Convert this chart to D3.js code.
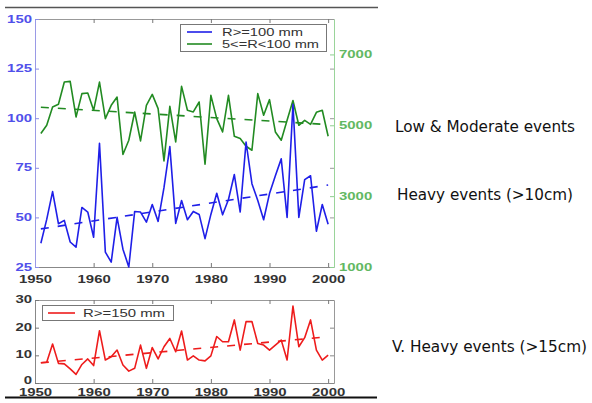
<!DOCTYPE html>
<html>
<head>
<meta charset="utf-8">
<script src="https://cdn.jsdelivr.net/npm/d3@7"></script>
<style>
  html, body { margin: 0; padding: 0; background: #fff; }
  svg { display: block; }
</style>
</head>
<body>
<svg id="chart" width="592" height="403"></svg>
<script>
// Annual rainfall-event counts, 1951-2000
const years = d3.range(1951, 2001);

// Heavy events, R >= 100 mm (left axis)
const heavy = [37, 49, 63, 46.8, 48.5, 37.6, 35, 55, 52.7, 40,
               87.4, 32.5, 27.5, 50, 34, 25, 53, 52.7, 47.6, 56.5,
               48, 65, 85.7, 47, 58.5, 48.8, 53, 51.5, 39.3, 51.5,
               62.2, 51.3, 59, 71.6, 52.7, 88, 67, 58.5, 48.8, 62,
               71, 79.5, 50, 107, 50, 69, 71, 43, 56.5, 46.5];

// Low & moderate events, 5 <= R < 100 mm (right axis)
const moderate = [4766, 5000, 5516, 5592, 6220, 6240, 5234, 5893, 5911, 5423,
                  6220, 5189, 5564, 5797, 4175, 4578, 5375, 4558, 5564, 5873,
                  5470, 3995, 5535, 4530, 6099, 5423, 5376, 5658, 3902, 5845,
                  5188, 4812, 5845, 4690, 4625, 4409, 4296, 5893, 5282, 5724,
                  4812, 4578, 5141, 5700, 5000, 5141, 5028, 5366, 5423, 4690];

// Very heavy events, R >= 150 mm
const veryHeavy = [7.3, 7.5, 14.1, 7.1, 6.9, 5.1, 3.1, 6.7, 8.7, 6.3,
                   18.9, 8.3, 9.5, 11.9, 6.5, 4.3, 5.3, 13.7, 5.3, 12.8,
                   8.7, 13.1, 16.1, 11.3, 18.8, 8.3, 9.8, 8.3, 8.0, 9.8,
                   16.8, 14.9, 14.9, 22.8, 11.9, 22.2, 22.2, 14.3, 13.7, 11.9,
                   13.7, 15.5, 8.3, 27.8, 13.1, 16.4, 22.8, 11.9, 8.3, 10.1];

// Linear trends (value at first and last year)
const trendYears = [1951, 2000];
const heavyTrend = [44.2, 66.3];
const moderateTrend = [5510, 5020];
const veryHeavyTrend = [7.3, 16.7];

// Tick values
const xTicks = [1950, 1960, 1970, 1980, 1990, 2000];
const heavyTicks = [25, 50, 75, 100, 125, 150];
const moderateTicks = [1000, 3000, 5000, 7000];
const veryHeavyTicks = [0, 10, 20, 30];

// Legend entries and side captions
const topLegend = ["R>=100 mm", "5<=R<100 mm"];
const bottomLegend = ["R>=150 mm"];
const captions = ["Low & Moderate events", "Heavy events (>10cm)", "V. Heavy events (>15cm)"];

const svg = d3.select("#chart");
const FONT = "'Liberation Sans', Arial, sans-serif";
const fmt = d3.format("d");

const x = d3.scaleLinear().domain([1950, 2001]).range([35, 334]);
const yL = d3.scaleLinear().domain([25, 150]).range([267, 19]);
const yR = d3.scaleLinear().domain([1000, 8000]).range([267, 19]);
const y2 = d3.scaleLinear().domain([0, 30]).range([383, 300]);

// frame rules above and below the panels
svg.append("line").attr("x1", 5).attr("x2", 378).attr("y1", 7.5).attr("y2", 7.5)
  .attr("stroke", "#555").attr("stroke-width", 1.5);
svg.append("line").attr("x1", 5).attr("x2", 377).attr("y1", 397.5).attr("y2", 397.5)
  .attr("stroke", "#111").attr("stroke-width", 2.2);

function styleAxis(g, color, lineColor, labelColor, digitW) {
  g.select(".domain").attr("stroke", lineColor).attr("stroke-width", 1);
  g.selectAll(".tick line").attr("stroke", color).attr("stroke-width", 1);
  g.selectAll(".tick text")
    .attr("fill", labelColor)
    .attr("font-family", FONT)
    .attr("font-size", 11)
    .attr("font-weight", "bold")
    .each(function () {
      const t = d3.select(this);
      const s = t.text();
      if (s.length) t.attr("textLength", s.length * digitW).attr("lengthAdjust", "spacingAndGlyphs");
    });
}

// ---------- upper panel ----------
const upper = svg.append("g");

// bottom x axis
const gxB = upper.append("g").attr("transform", "translate(0,267)")
  .call(d3.axisBottom(x).tickValues(xTicks).tickSizeInner(-4).tickSizeOuter(0).tickFormat(fmt));
styleAxis(gxB, "#777", "#888", "#333", 8.3);
gxB.selectAll(".tick text").attr("dy", null).attr("y", 15.5);

// top edge
const gxT = upper.append("g").attr("transform", "translate(0,19)")
  .call(d3.axisTop(x).tickValues(xTicks).tickSizeInner(-4).tickSizeOuter(0).tickFormat(""));
styleAxis(gxT, "#777", "#999", "#333", 8.3);

// mirrored heavy ticks on right edge
const gyM = upper.append("g").attr("transform", "translate(334,0)")
  .call(d3.axisRight(yL).tickValues(heavyTicks).tickSizeInner(-4).tickSizeOuter(0).tickFormat(""));
styleAxis(gyM, "#999", "none", "#333", 8.3);

// left axis (heavy events)
const gyL = upper.append("g").attr("transform", "translate(35,0)")
  .call(d3.axisLeft(yL).tickValues(heavyTicks).tickSizeInner(-4).tickSizeOuter(0).tickPadding(3).tickFormat(fmt));
styleAxis(gyL, "#8c8ce6", "#9a9ae6", "#5050ea", 8.3);
gyL.selectAll(".tick text").attr("dy", "0.28em");

// right axis (moderate events)
const gyR = upper.append("g").attr("transform", "translate(334,0)")
  .call(d3.axisRight(yR).tickValues(moderateTicks).tickSizeInner(-4).tickSizeOuter(0).tickPadding(5).tickFormat(fmt));
styleAxis(gyR, "#8fcf8f", "#9ad49a", "#62b862", 8.3);
gyR.selectAll(".tick text").attr("dy", "0.28em");

const lineL = d3.line().x((d, i) => x(years[i])).y(d => yL(d));
const lineR = d3.line().x((d, i) => x(years[i])).y(d => yR(d));

upper.append("path").datum(moderate).attr("d", lineR)
  .attr("fill", "none").attr("stroke", "#228b22").attr("stroke-width", 1.6).attr("stroke-linejoin", "round");
upper.append("path").datum(heavy).attr("d", lineL)
  .attr("fill", "none").attr("stroke", "#1f1fe8").attr("stroke-width", 1.6).attr("stroke-linejoin", "round");

const trendLine = (ys) => d3.line().x((d, i) => x(trendYears[i])).y(d => ys(d));
upper.append("path").datum(moderateTrend).attr("d", trendLine(yR))
  .attr("fill", "none").attr("stroke", "#228b22").attr("stroke-width", 1.6).attr("stroke-dasharray", "8,9");
upper.append("path").datum(heavyTrend).attr("d", trendLine(yL))
  .attr("fill", "none").attr("stroke", "#1f1fe8").attr("stroke-width", 1.6).attr("stroke-dasharray", "8,9");

// legend
const lg = upper.append("g");
lg.append("rect").attr("x", 180.5).attr("y", 24.5).attr("width", 146).attr("height", 27)
  .attr("fill", "#fff").attr("stroke", "#777").attr("stroke-width", 1);
const topColors = ["#1f1fe8", "#228b22"];
const topTextW = [81, 97];
topLegend.forEach((s, i) => {
  const yy = 32 + i * 12;
  lg.append("line").attr("x1", 187).attr("x2", 212).attr("y1", yy).attr("y2", yy)
    .attr("stroke", topColors[i]).attr("stroke-width", 1.6);
  lg.append("text").attr("x", 222).attr("y", yy + 3.8).text(s)
    .attr("font-family", FONT).attr("font-size", 10).attr("fill", "#333")
    .attr("textLength", topTextW[i]).attr("lengthAdjust", "spacingAndGlyphs");
});

// ---------- lower panel ----------
const lower = svg.append("g");

const bxB = lower.append("g").attr("transform", "translate(0,383)")
  .call(d3.axisBottom(x).tickValues(xTicks).tickSizeInner(-4).tickSizeOuter(0).tickFormat(fmt));
styleAxis(bxB, "#777", "#888", "#333", 8.3);
bxB.selectAll(".tick text").attr("dy", null).attr("y", 12.8);

const bxT = lower.append("g").attr("transform", "translate(0,300)")
  .call(d3.axisTop(x).tickValues(xTicks).tickSizeInner(-4).tickSizeOuter(0).tickFormat(""));
styleAxis(bxT, "#777", "#999", "#333", 8.3);

const byR = lower.append("g").attr("transform", "translate(334,0)")
  .call(d3.axisRight(y2).tickValues(veryHeavyTicks).tickSizeInner(-4).tickSizeOuter(0).tickFormat(""));
styleAxis(byR, "#888", "#999", "#333", 8.3);

const byL = lower.append("g").attr("transform", "translate(35,0)")
  .call(d3.axisLeft(y2).tickValues(veryHeavyTicks).tickSizeInner(-4).tickSizeOuter(0).tickPadding(3).tickFormat(fmt));
styleAxis(byL, "#777", "#888", "#333", 8.3);
// the zero label sits just above the year labels
byL.selectAll(".tick text").attr("dy", d => d === 0 ? "0.03em" : "0.22em");

lower.append("path").datum(veryHeavy)
  .attr("d", d3.line().x((d, i) => x(years[i])).y(d => y2(d)))
  .attr("fill", "none").attr("stroke", "#ee1c1c").attr("stroke-width", 1.6).attr("stroke-linejoin", "round");
lower.append("path").datum(veryHeavyTrend).attr("d", trendLine(y2))
  .attr("fill", "none").attr("stroke", "#ee1c1c").attr("stroke-width", 1.6).attr("stroke-dasharray", "8,9");

const lg2 = lower.append("g");
lg2.append("rect").attr("x", 42.5).attr("y", 305.5).attr("width", 131).attr("height", 15)
  .attr("fill", "#fff").attr("stroke", "#777").attr("stroke-width", 1);
lg2.append("line").attr("x1", 48).attr("x2", 75).attr("y1", 313).attr("y2", 313)
  .attr("stroke", "#ee1c1c").attr("stroke-width", 1.6);
lg2.append("text").attr("x", 83).attr("y", 316.8).text(bottomLegend[0])
  .attr("font-family", FONT).attr("font-size", 10).attr("fill", "#333")
  .attr("textLength", 82).attr("lengthAdjust", "spacingAndGlyphs");

// ---------- side captions ----------
const capPos = [[395, 131.5, 180], [397, 200, 176], [392, 351.5, 195]];
captions.forEach((s, i) => {
  svg.append("text").attr("x", capPos[i][0]).attr("y", capPos[i][1]).text(s)
    .attr("font-family", "'DejaVu Sans Condensed', 'DejaVu Sans', Verdana, sans-serif")
    .attr("font-stretch", "condensed")
    .attr("font-size", 16)
    .attr("fill", "#111")
    .attr("textLength", capPos[i][2]).attr("lengthAdjust", "spacingAndGlyphs");
});
</script>
</body>
</html>
